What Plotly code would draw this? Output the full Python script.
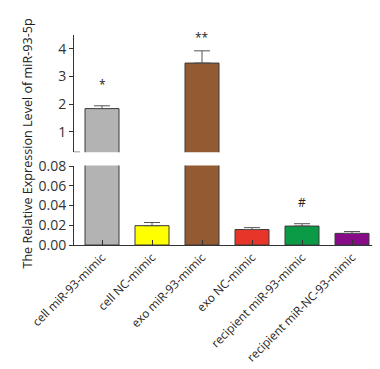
import plotly.graph_objects as go

categories = ["cell miR-93-mimic", "cell NC-mimic", "exo miR-93-mimic",
              "exo NC-mimic", "recipient miR-93-mimic", "recipient miR-NC-93-mimic"]
values = [1.84, 0.0196, 3.48, 0.0157, 0.0192, 0.0118]
errors = [0.10, 0.0032, 0.44, 0.0019, 0.0024, 0.0019]
colors = ["#b3b3b3", "#ffff00", "#935b32", "#e8352a", "#0b9b47", "#870a87"]
top_ticks = [1, 2, 3, 4]
bottom_ticks = [0.00, 0.02, 0.04, 0.06, 0.08]
marks = [("*", 0, 2.7, "y2"), ("#", 4, 0.043, "y")]
top_mark = ("**", 2)

fig = go.Figure()
for yaxis in ["y", "y2"]:
    fig.add_trace(go.Bar(
        x=categories, y=values, yaxis=yaxis,
        marker=dict(color=colors, line=dict(color="#3a3a3a", width=1)),
        width=0.68,
        error_y=dict(type="data", array=errors, arrayminus=[0] * len(errors),
                     symmetric=False, color="#555555", thickness=1, width=8),
        showlegend=False,
    ))

fnt = dict(family="Open Sans, sans-serif", size=12, color="#333333")
fig.update_layout(
    width=380, height=369,
    margin=dict(l=66, r=12, t=27, b=125),
    paper_bgcolor="white", plot_bgcolor="white",
    font=fnt,
    xaxis=dict(range=[-0.56, 5.48], showline=True, linecolor="#333333", linewidth=1,
               ticks="inside", ticklen=5, tickcolor="#333333", tickangle=-45,
               tickfont=dict(family="Open Sans, sans-serif", size=11.8, color="#222222"),
               showgrid=False, zeroline=False),
    yaxis=dict(domain=[0, 0.378], range=[0, 0.0805], tickvals=bottom_ticks,
               tickformat=".2f", showline=True, linecolor="#333333", linewidth=1,
               ticks="outside", ticklen=4, tickcolor="#333333", showgrid=False,
               zeroline=False, tickfont=dict(size=14)),
    yaxis2=dict(domain=[0.442, 1], range=[0.27, 4.49], tickvals=top_ticks,
                showline=True, linecolor="#333333", linewidth=1,
                ticks="outside", ticklen=4, tickcolor="#333333", showgrid=False,
                zeroline=False, anchor="x", tickfont=dict(size=14)),
)

for text, xi, yv, yref in marks:
    fig.add_annotation(x=categories[xi], y=yv, xref="x", yref=yref, text=text,
                       showarrow=False, font=dict(size=12, color="#222222"))

fig.add_annotation(x=categories[top_mark[1]], y=1.07, xref="x", yref="y2 domain",
                   text=top_mark[0], showarrow=False, font=dict(size=12, color="#222222"))

fig.add_shape(type="line", xref="paper", yref="y2", x0=0, x1=0.02, y0=0.27, y1=0.27,
              line=dict(color="#333333", width=1))

fig.add_annotation(text="The Relative Expression Level of miR-93-5p", xref="paper", yref="paper",
                   x=-0.155, y=0.484, textangle=-90, showarrow=False,
                   font=dict(family="Open Sans, sans-serif", size=12.6, color="#222222"),
                   xanchor="center", yanchor="middle")

fig.write_html("out.html")
